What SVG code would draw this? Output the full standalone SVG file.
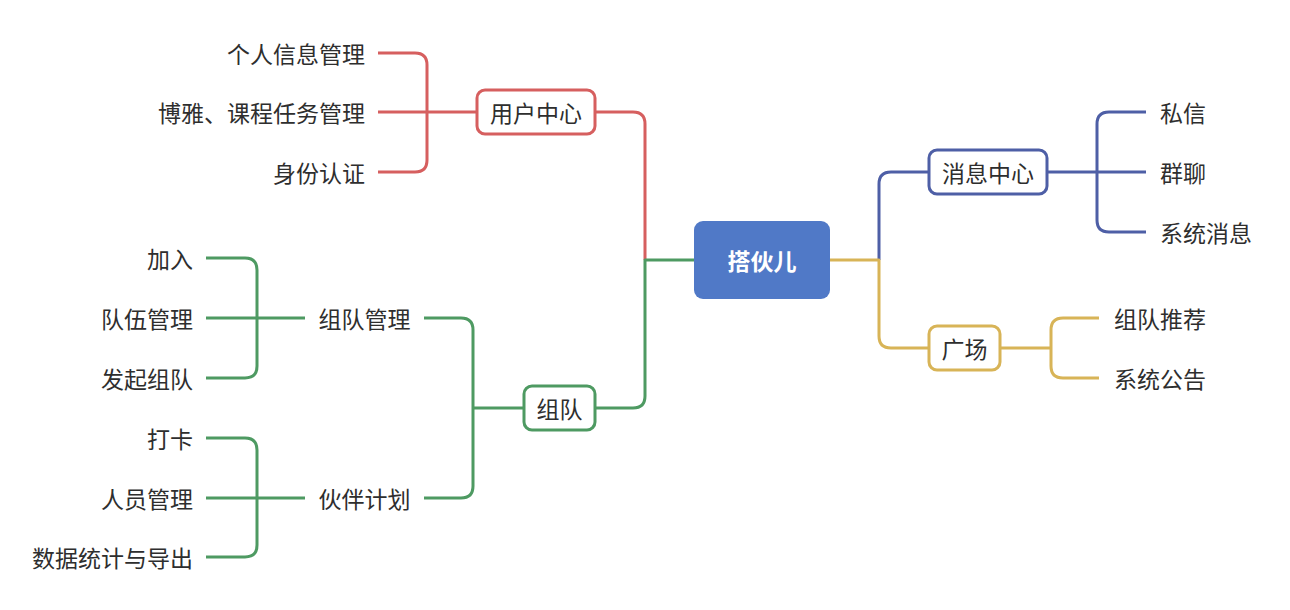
<svg xmlns="http://www.w3.org/2000/svg" width="1290" height="610" viewBox="0 0 1290 610">
<style>
text{font-family:"Noto Sans CJK SC","Noto Sans",sans-serif;font-size:23px;fill:#2e2e2e;dominant-baseline:central}
.c{fill:none;stroke-width:3;stroke-linecap:butt;stroke-linejoin:round}
.red{stroke:#d65f5f}.blue{stroke:#4e5fa6}.green{stroke:#4e9a62}.yellow{stroke:#d8b457}
.box{fill:#fff;stroke-width:3}
.e{text-anchor:end}.m{text-anchor:middle}.s{text-anchor:start}
</style>
<rect width="1290" height="610" fill="#fff"/>
<g id="connectors">
<path class="c red" d="M645,260 V124 Q645,112 633,112 H595"/>
<path class="c red" d="M477,112 H378 M378,53 H415 Q427,53 427,65 V160 Q427,172 415,172 H378"/>
<path class="c green" d="M694,260 H645 V396 Q645,408 633,408 H595"/>
<path class="c green" d="M524,408 H473 M424,318 H461 Q473,318 473,330 V486 Q473,498 461,498 H424"/>
<path class="c green" d="M305,318 H206 M206,258 H245 Q257,258 257,270 V366 Q257,378 245,378 H206"/>
<path class="c green" d="M305,498 H206 M206,438 H245 Q257,438 257,450 V545 Q257,557 245,557 H206"/>
<path class="c blue" d="M879,260 V184 Q879,172 891,172 H929"/>
<path class="c blue" d="M1047,172 H1146 M1146,112 H1109 Q1097,112 1097,124 V220 Q1097,232 1109,232 H1146"/>
<path class="c yellow" d="M830,260 H879 V336 Q879,348 891,348 H929"/>
<path class="c yellow" d="M1000,348 H1051 M1099,318 H1063 Q1051,318 1051,330 V366 Q1051,378 1063,378 H1099"/>
</g>
<g id="root">
<rect x="694" y="221" width="136" height="78" rx="9" fill="#5079c7"/>
<text x="762" y="259.5" class="m" style="fill:#fff;font-weight:bold">搭伙儿</text>
</g>
<g id="user-center">
<rect class="box red" x="477" y="90" width="118" height="44" rx="8"/>
<text x="536" y="111.5" class="m">用户中心</text>
</g>
<g id="u1"><text x="365" y="52.5" class="e">个人信息管理</text></g>
<g id="u2"><text x="365" y="111.5" class="e">博雅、课程任务管理</text></g>
<g id="u3"><text x="365" y="171.5" class="e">身份认证</text></g>
<g id="team">
<rect class="box green" x="524" y="386" width="71" height="44" rx="8"/>
<text x="559.5" y="407.5" class="m">组队</text>
</g>
<g id="team-manage"><text x="364.5" y="317.5" class="m">组队管理</text></g>
<g id="partner-plan"><text x="364.5" y="497.5" class="m">伙伴计划</text></g>
<g id="t1"><text x="193" y="257.5" class="e">加入</text></g>
<g id="t2"><text x="193" y="317.5" class="e">队伍管理</text></g>
<g id="t3"><text x="193" y="377.5" class="e">发起组队</text></g>
<g id="p1"><text x="193" y="437.5" class="e">打卡</text></g>
<g id="p2"><text x="193" y="497.5" class="e">人员管理</text></g>
<g id="p3"><text x="193" y="556.5" class="e">数据统计与导出</text></g>
<g id="msg-center">
<rect class="box blue" x="929" y="150" width="118" height="44" rx="8"/>
<text x="988" y="171.5" class="m">消息中心</text>
</g>
<g id="m1"><text x="1160" y="111.5" class="s">私信</text></g>
<g id="m2"><text x="1160" y="171.5" class="s">群聊</text></g>
<g id="m3"><text x="1160" y="231.5" class="s">系统消息</text></g>
<g id="square">
<rect class="box yellow" x="929" y="326" width="71" height="44" rx="8"/>
<text x="964.5" y="347.5" class="m">广场</text>
</g>
<g id="s1"><text x="1114" y="317.5" class="s">组队推荐</text></g>
<g id="s2"><text x="1114" y="377.5" class="s">系统公告</text></g>
</svg>
